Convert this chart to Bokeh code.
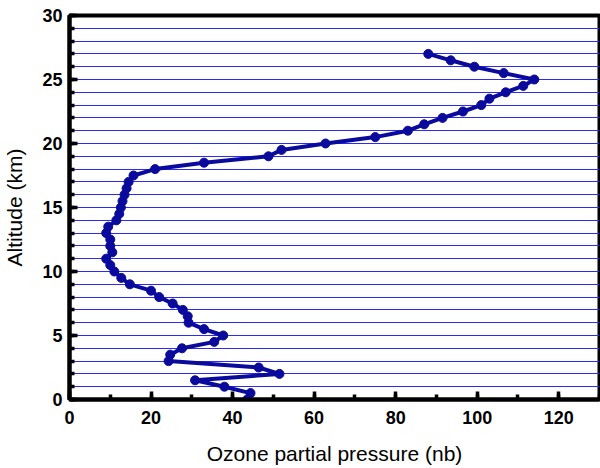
from bokeh.plotting import figure
from bokeh.models import SingleIntervalTicker, Range1d, ColumnDataSource
from bokeh.embed import file_html
from bokeh.resources import INLINE

altitude_km = [0, 0.5, 1, 1.5, 2, 2.5, 3, 3.5, 4, 4.5, 5, 5.5, 6, 6.5, 7, 7.5, 8, 8.5,
               9, 9.5, 10, 10.5, 11, 11.5, 12, 12.5, 13, 13.5, 14, 14.5, 15, 15.5, 16,
               16.5, 17, 17.5, 18, 18.5, 19, 19.5, 20, 20.5, 21, 21.5, 22, 22.5, 23,
               23.5, 24, 24.5, 25, 25.5, 26, 26.5, 27]
ozone_nb = [43.6, 44.4, 38, 30.8, 51.5, 46.4, 24.3, 24.7, 27.6, 35.5, 37.7, 33, 29.2, 29,
            27.8, 25.3, 22, 20, 14.8, 12.7, 11, 10, 9, 10.5, 10, 10, 9, 9.5, 11.5, 12.2,
            12.6, 13, 13.5, 14, 14.5, 15.7, 21, 33, 48.8, 52, 62.8, 75, 83, 87, 91.5,
            96.5, 101, 103, 107, 111.3, 114, 106.5, 99.3, 93.5, 88]

x_title = "Ozone partial pressure (nb)"
y_title = "Altitude (km)"

src = ColumnDataSource(dict(x=ozone_nb, y=altitude_km))

p = figure(width=600, height=468, output_backend="svg", toolbar_location=None,
           x_range=Range1d(0, 130), y_range=Range1d(0, 30),
           min_border_left=67, min_border_right=1, min_border_top=15, min_border_bottom=69)

p.background_fill_color = "white"
p.border_fill_color = "white"
p.outline_line_color = "black"
p.outline_line_width = 4

p.xgrid.visible = False
p.ygrid.ticker = SingleIntervalTicker(interval=1)
p.ygrid.grid_line_color = "#2a2aff"
p.ygrid.grid_line_width = 1.2

p.line("x", "y", source=src, line_color="#0a0a9c", line_width=4)
p.scatter("x", "y", source=src, size=9, fill_color="#0a0a9c", line_color="#0a0a9c")

p.xaxis.ticker = SingleIntervalTicker(interval=20, num_minor_ticks=2)
p.yaxis.ticker = SingleIntervalTicker(interval=5, num_minor_ticks=5)

for ax in (p.xaxis[0], p.yaxis[0]):
    ax.axis_line_width = 4
    ax.axis_line_color = "black"
    ax.major_tick_in = 8
    ax.major_tick_out = 0
    ax.minor_tick_in = 5
    ax.minor_tick_out = 0
    ax.major_tick_line_width = 3.5
    ax.minor_tick_line_width = 3.5
    ax.major_tick_line_color = "black"
    ax.minor_tick_line_color = "black"
    ax.major_label_text_font = "Liberation Sans"
    ax.major_label_text_font_style = "bold"
    ax.major_label_text_font_size = "18px"
    ax.major_label_text_color = "black"
    ax.axis_label_text_font = "Liberation Sans"
    ax.axis_label_text_font_style = "normal"
    ax.axis_label_text_font_size = "21px"
    ax.axis_label_text_color = "black"

p.xaxis.axis_label = x_title
p.yaxis.axis_label = y_title
p.xaxis.major_label_standoff = 11
p.yaxis.major_label_standoff = 7
p.xaxis.axis_label_standoff = 15
p.yaxis.axis_label_standoff = 13

open("out.html", "w").write(file_html(p, INLINE))
